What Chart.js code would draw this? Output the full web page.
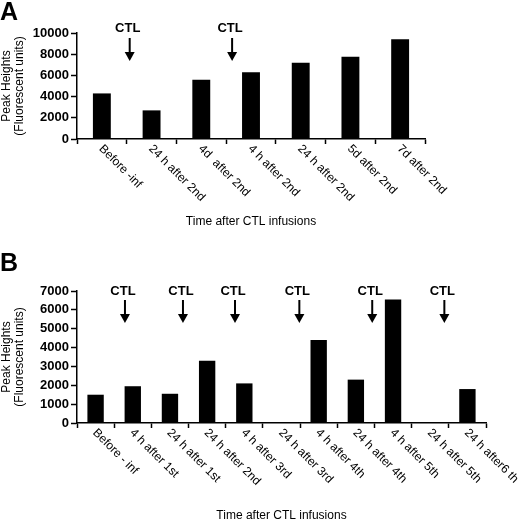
<!DOCTYPE html>
<html>
<head>
<meta charset="utf-8">
<script src="https://cdn.jsdelivr.net/npm/chart.js@4"></script>
<style>
  html, body { margin: 0; padding: 0; background: #fff; }
  body { width: 520px; height: 522px; position: relative; overflow: hidden; }
  .panel { position: absolute; left: 0; width: 520px; }
  #pa { top: 0; height: 250px; }
  #pb { top: 250px; height: 272px; }
</style>
</head>
<body>
<div class="panel" id="pa"><canvas id="chartA"></canvas></div>
<div class="panel" id="pb"><canvas id="chartB"></canvas></div>
<script>
const labelsA = ['Before -inf', '24 h after 2nd', '4d  after 2nd', '4 h after 2nd', '24 h after 2nd', '5d after 2nd', '7d after 2nd'];
const valuesA = [4300, 2700, 5600, 6300, 7200, 7750, 9400];
const ticksA = [0, 2000, 4000, 6000, 8000, 10000];
const ctlA = [0.56, 2.62]; // category index where the CTL arrows point

const labelsB = ['Before - inf', '4 h after 1st', '24 h after 1st', '24 h after 2nd', '4 h after 3rd', '24 h after 3rd',
  '4 h after 4th', '24 h after 4th', '4 h after 5th', '24 h after 5th', '24 h after6 th'];
const valuesB = [1500, 1950, 1550, 3300, 2100, 0, 4400, 2300, 6550, 0, 1800];
const ticksB = [0, 1000, 2000, 3000, 4000, 5000, 6000, 7000];
const ctlB = [0.79, 2.35, 3.75, 5.48, 7.44, 9.38];

const FONT = "'Liberation Sans', Arial, sans-serif";
Chart.defaults.font.family = FONT;
Chart.defaults.color = '#000';

// draws rotated x labels, CTL arrows and the panel letter
const extras = {
  id: 'extras',
  afterDraw(chart, args, opts) {
    const ctx = chart.ctx;
    const x = chart.scales.x;
    const area = chart.chartArea;
    ctx.save();
    ctx.fillStyle = '#000';
    ctx.strokeStyle = '#000';

    // x labels, going down to the right
    ctx.font = '12px ' + FONT;
    ctx.textAlign = 'left';
    ctx.textBaseline = 'middle';
    chart.data.labels.forEach((lab, i) => {
      const px = x.getPixelForValue(i);
      ctx.save();
      ctx.translate(px - 1, area.bottom + 8);
      ctx.rotate(Math.PI / 4);
      ctx.fillText(lab, 0, 0);
      ctx.restore();
    });

    // CTL arrows
    ctx.font = 'bold 13px ' + FONT;
    ctx.textAlign = 'center';
    opts.ctl.forEach(pos => {
      const px = x.getPixelForValue(pos);
      ctx.fillText('CTL', px - 2, area.top + opts.textY);
      ctx.lineWidth = 2;
      ctx.beginPath();
      ctx.moveTo(px, area.top + opts.arrowFrom);
      ctx.lineTo(px, area.top + opts.arrowTo - 8);
      ctx.stroke();
      ctx.beginPath();
      ctx.moveTo(px - 5, area.top + opts.arrowTo - 9);
      ctx.lineTo(px + 5, area.top + opts.arrowTo - 9);
      ctx.lineTo(px, area.top + opts.arrowTo);
      ctx.closePath();
      ctx.fill();
    });

    // panel letter
    ctx.font = 'bold 25px ' + FONT;
    ctx.textAlign = 'left';
    ctx.textBaseline = 'top';
    ctx.fillText(opts.letter, 0, opts.letterY);
    ctx.restore();
  }
};

function makeChart(id, labels, values, ticks, ctl, cfg) {
  return new Chart(document.getElementById(id), {
    type: 'bar',
    data: {
      labels: labels,
      datasets: [{
        data: values,
        backgroundColor: '#000',
        borderWidth: 0,
        barPercentage: 1,
        categoryPercentage: cfg.barPct
      }]
    },
    options: {
      responsive: true,
      maintainAspectRatio: false,
      animation: false,
      layout: { padding: { left: 0, top: cfg.top, right: cfg.right, bottom: 0 } },
      scales: {
        x: {
          grid: { drawOnChartArea: false, tickLength: 5, tickColor: '#000', tickWidth: 1.5 },
          border: { color: '#000', width: 1.5 },
          ticks: { display: false },
          title: {
            display: true,
            text: 'Time after CTL infusions',
            font: { size: 12, lineHeight: 1.0 },
            padding: { top: 0, bottom: cfg.titlePad }
          },
          afterFit: s => { s.height = cfg.xHeight; }
        },
        y: {
          min: ticks[0],
          max: ticks[ticks.length - 1],
          grid: { drawOnChartArea: false, tickLength: 6, tickColor: '#000', tickWidth: 1.5 },
          border: { color: '#000', width: 1.5 },
          ticks: {
            stepSize: ticks[1] - ticks[0],
            padding: 2,
            font: { size: 13, weight: 'bold' },
            callback: v => String(v)
          },
          title: {
            display: true,
            text: ['Peak Heights', '(Fluorescent units)'],
            font: { size: 12, lineHeight: 1.1 },
            padding: { top: 0, bottom: 0 }
          },
          afterFit: s => { s.width = 77; }
        }
      },
      plugins: {
        legend: { display: false },
        tooltip: { enabled: false },
        extras: { ctl: ctl, letter: cfg.letter, letterY: cfg.letterY, textY: cfg.textY, arrowFrom: cfg.arrowFrom, arrowTo: cfg.arrowTo }
      }
    },
    plugins: [extras]
  });
}

makeChart('chartA', labelsA, valuesA, ticksA, ctlA, {
  top: 33, right: 95, xHeight: 111, titlePad: 22, barPct: 0.36,
  letter: 'A', letterY: 1, textY: -5, arrowFrom: 5, arrowTo: 28
});
makeChart('chartB', labelsB, valuesB, ticksB, ctlB, {
  top: 41, right: 34, xHeight: 99, titlePad: 0, barPct: 0.44,
  letter: 'B', letterY: 2, textY: 0, arrowFrom: 9, arrowTo: 32
});
</script>
</body>
</html>
